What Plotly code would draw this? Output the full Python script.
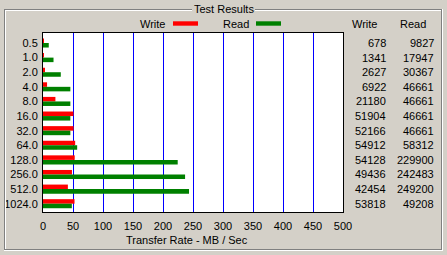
import plotly.graph_objects as go

# ---- data ----
sizes = ["0.5", "1.0", "2.0", "4.0", "8.0", "16.0", "32.0", "64.0", "128.0", "256.0", "512.0", "1024.0"]
write_kb = [678, 1341, 2627, 6922, 21180, 51904, 52166, 54912, 54128, 49436, 42454, 53818]
read_kb = [9827, 17947, 30367, 46661, 46661, 46661, 46661, 58312, 229900, 242483, 249200, 49208]
x_ticks = [0, 50, 100, 150, 200, 250, 300, 350, 400, 450, 500]

W, H = 447, 255
L, R, T, B = 43, 343, 33, 212
BG = "#D4D0C8"
FONT = "Liberation Sans, Arial, sans-serif"


def px(x):
    return (x - L) / (R - L)


def py(y):
    return (B - y) / (B - T)


idx = list(range(len(sizes)))
write_mb = [v / 1024 for v in write_kb]
read_mb = [v / 1024 for v in read_kb]

fig = go.Figure()
fig.add_bar(y=idx, x=write_mb, orientation="h", marker_color="#FF0000",
            marker_line_width=0, width=0.31, offset=-0.31, name="Write")
fig.add_bar(y=idx, x=read_mb, orientation="h", marker_color="#008000",
            marker_line_width=0, width=0.31, offset=0.0, name="Read")

row_px = 14.61
y0px = 43.0
ytop = (T - y0px) / row_px
ybot = (B - y0px) / row_px

fig.update_layout(
    width=W, height=H,
    margin=dict(l=L, r=W - R, t=T, b=H - B, pad=0, autoexpand=False),
    paper_bgcolor=BG, plot_bgcolor="white",
    barmode="overlay", showlegend=False,
    font=dict(family=FONT, size=11, color="black"),
    xaxis=dict(range=[0, 500], tickvals=x_ticks, ticktext=[str(v) for v in x_ticks],
               showgrid=True, gridcolor="#0000FF", gridwidth=1, zeroline=False,
               showline=True, mirror=True, linecolor="black", linewidth=1,
               ticks="", fixedrange=True, automargin=False, ticklabelstandoff=4),
    yaxis=dict(range=[ybot, ytop], tickvals=idx, ticktext=sizes,
               showgrid=False, zeroline=False, showline=True, mirror=True,
               linecolor="black", linewidth=1, ticks="", fixedrange=True,
               automargin=False, ticklabelstandoff=2),
)

shapes = []
GRAY, WHITE = "#808080", "#FFFFFF"


def hline(x0, x1, y, color):
    shapes.append(dict(type="line", xref="paper", yref="paper", x0=px(x0), x1=px(x1),
                       y0=py(y), y1=py(y), line=dict(color=color, width=1)))


def vline(x, y0, y1, color):
    shapes.append(dict(type="line", xref="paper", yref="paper", x0=px(x), x1=px(x),
                       y0=py(y0), y1=py(y1), line=dict(color=color, width=1)))


# etched group box
hline(4, 192, 9.5, GRAY)
hline(255, 441.5, 9.5, GRAY)
hline(5, 192, 10.5, WHITE)
hline(255, 441, 10.5, WHITE)
vline(4.5, 9, 250, GRAY)
vline(5.5, 10, 249, WHITE)
vline(441.5, 9, 250, GRAY)
vline(442.5, 9, 251, WHITE)
hline(4, 442, 249.5, GRAY)
hline(4, 443, 250.5, WHITE)

# legend swatches
shapes.append(dict(type="rect", xref="paper", yref="paper", x0=px(173), x1=px(198),
                   y0=py(25.7), y1=py(21.3), fillcolor="#FF0000", line=dict(width=0)))
shapes.append(dict(type="rect", xref="paper", yref="paper", x0=px(256), x1=px(281),
                   y0=py(25.7), y1=py(21.3), fillcolor="#008000", line=dict(width=0)))

ann = []


def text(x, y, s, xanchor="center", yref="paper"):
    ann.append(dict(x=px(x), y=(py(y) if yref == "paper" else y), xref="paper", yref=yref,
                    text=s, showarrow=False, xanchor=xanchor, yanchor="middle",
                    font=dict(family=FONT, size=11, color="black")))


text(224, 9.5, "Test Results")
text(152.5, 24, "Write")
text(236, 24, "Read")
text(364, 24, "Write")
text(412.5, 24, "Read")
text(187, 240, "Transfer Rate - MB / Sec")
for i in idx:
    ann.append(dict(x=px(388), y=i, xref="paper", yref="y", text=str(write_kb[i]),
                    showarrow=False, xanchor="right", yanchor="middle"))
    ann.append(dict(x=px(436), y=i, xref="paper", yref="y", text=str(read_kb[i]),
                    showarrow=False, xanchor="right", yanchor="middle"))

fig.update_layout(shapes=shapes, annotations=ann)
fig.write_html("out.html")
